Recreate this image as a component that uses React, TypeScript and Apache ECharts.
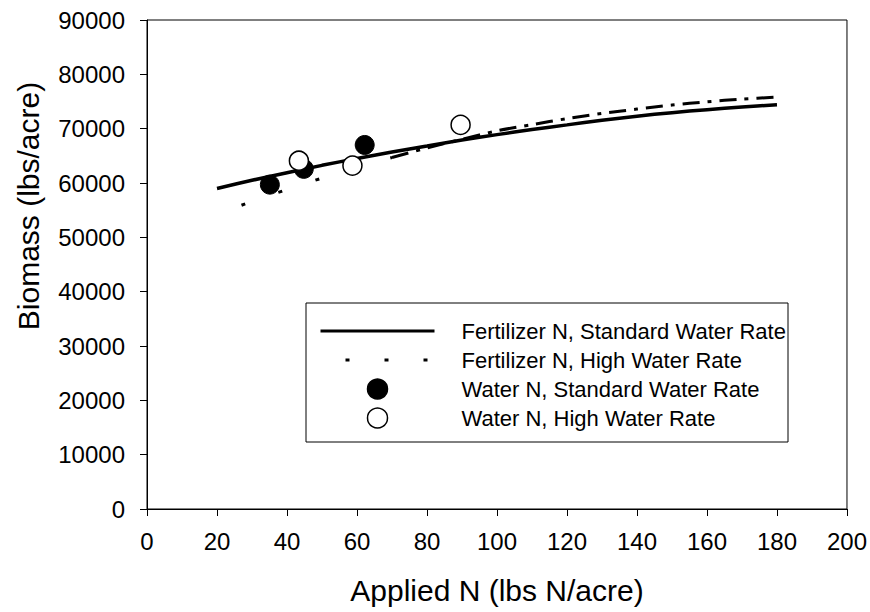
import React, { useEffect, useRef } from "react";
import * as echarts from "echarts";

const FONT = "Arial, 'Liberation Sans', sans-serif";

// Fertilizer N, Standard Water Rate (fitted curve)
const stdCurveX = [20, 30, 40, 50, 60, 70, 80, 90, 100, 110, 120, 130, 140, 150, 160, 170, 180];
const stdCurveY = [59000, 60500, 61900, 63250, 64500, 65700, 66800, 67900, 68900, 69850, 70700, 71550, 72300, 72950, 73500, 74000, 74400];

// Fertilizer N, High Water Rate (fitted curve)
const highCurveX = [27, 30, 40, 50, 60, 70, 80, 90, 100, 110, 120, 130, 140, 150, 160, 170, 180];
const highCurveY = [55900, 56600, 58800, 60900, 62850, 64700, 66450, 68050, 69600, 70750, 71850, 72800, 73600, 74350, 74950, 75450, 75800];
const highDotEndX = 70; // first part of the curve is drawn as dots only

// Water N points
const waterStdX = [35.1, 44.8, 62.2];
const waterStdY = [59700, 62600, 67000];
const waterHighX = [43.4, 58.7, 89.6];
const waterHighY = [64100, 63200, 70700];

const names = [
  "Fertilizer N, Standard Water Rate",
  "Fertilizer N, High Water Rate",
  "Water N, Standard Water Rate",
  "Water N, High Water Rate",
];

const xTitle = "Applied N (lbs N/acre)";
const yTitle = "Biomass (lbs/acre)";

export default function App() {
  const ref = useRef<HTMLDivElement>(null);
  useEffect(() => {
    if (!ref.current) return;
    const chart = echarts.init(ref.current, null, { renderer: "svg" });
    const std = stdCurveX.map((x, i) => [x, stdCurveY[i]]);
    const high = highCurveX.map((x, i) => [x, highCurveY[i]]);
    const highDots = high.filter((p) => p[0] <= highDotEndX);
    const highDash = high.filter((p) => p[0] >= highDotEndX);
    const wStd = waterStdX.map((x, i) => [x, waterStdY[i]]);
    const wHigh = waterHighX.map((x, i) => [x, waterHighY[i]]);

    const hiddenSymbol = { color: "transparent", borderColor: "transparent" };

    chart.setOption({
      animation: false,
      backgroundColor: "#fff",
      textStyle: { fontFamily: FONT },
      grid: {
        left: 147,
        right: 22,
        top: 20,
        bottom: 103,
        show: true,
        borderColor: "#000",
        borderWidth: 1,
        backgroundColor: "transparent",
      },
      xAxis: {
        type: "value",
        min: 0,
        max: 200,
        interval: 20,
        name: xTitle,
        nameLocation: "middle",
        nameGap: 66,
        nameTextStyle: { fontSize: 30, color: "#000", fontFamily: FONT },
        axisLine: { show: true, lineStyle: { color: "#000", width: 1 } },
        axisTick: { show: true, inside: false, length: 7, lineStyle: { color: "#000" } },
        axisLabel: { fontSize: 24, color: "#000", margin: 20, fontFamily: FONT },
        splitLine: { show: false },
      },
      yAxis: {
        type: "value",
        min: 0,
        max: 90000,
        interval: 10000,
        axisLine: { show: true, lineStyle: { color: "#000", width: 1 } },
        axisTick: { show: true, inside: false, length: 7, lineStyle: { color: "#000" } },
        axisLabel: {
          fontSize: 24,
          color: "#000",
          margin: 22,
          fontFamily: FONT,
          formatter: (v: number) => String(v),
        },
        splitLine: { show: false },
      },
      legend: {
        orient: "vertical",
        left: 319,
        top: 320,
        padding: 0,
        z: 20,
        itemWidth: 114,
        itemHeight: 20,
        itemGap: 7,
        data: names,
        selectedMode: false,
        textStyle: { fontSize: 22, color: "#000", fontFamily: FONT, padding: [0, 0, 0, 22] },
        lineStyle: { width: 3, dashOffset: 14 },
        itemStyle: { borderWidth: 1.5 },
      },
      graphic: [
        {
          type: "rect",
          shape: { x: 306, y: 303, width: 482, height: 139 },
          style: { fill: "#fff", stroke: "#000", lineWidth: 1 },
          z: 6,
        },
        {
          type: "text",
          x: 28,
          y: 206,
          rotation: Math.PI / 2,
          style: {
            text: yTitle,
            font: `30px ${FONT}`,
            fill: "#000",
            align: "center",
            verticalAlign: "middle",
          },
        },
      ],
      series: [
        {
          name: names[1],
          type: "line",
          data: highDots,
          symbol: "none",
          smooth: 0.3,
          itemStyle: hiddenSymbol,
          lineStyle: { color: "#000", width: 3, type: [4, 35], dashOffset: 0 },
          z: 2,
        },
        {
          name: names[1],
          type: "line",
          data: highDash,
          symbol: "none",
          smooth: 0.3,
          itemStyle: hiddenSymbol,
          lineStyle: { color: "#000", width: 3, type: [17, 8, 4, 8] },
          z: 2,
        },
        {
          name: names[0],
          type: "line",
          data: std,
          symbol: "none",
          smooth: 0.3,
          itemStyle: hiddenSymbol,
          lineStyle: { color: "#000", width: 3.5, type: "solid" },
          z: 3,
        },
        {
          name: names[2],
          type: "scatter",
          data: wStd,
          symbol: "circle",
          symbolSize: 19,
          itemStyle: { color: "#000", borderColor: "#000", borderWidth: 1, opacity: 1 },
          z: 4,
        },
        {
          name: names[3],
          type: "scatter",
          data: wHigh,
          symbol: "circle",
          symbolSize: 19,
          itemStyle: { color: "#fff", borderColor: "#000", borderWidth: 1.5, opacity: 1 },
          z: 5,
        },
      ],
    });
    return () => chart.dispose();
  }, []);
  return (
    <div
      ref={ref}
      style={{ position: "absolute", left: 0, top: 0, width: 870, height: 612 }}
    />
  );
}
